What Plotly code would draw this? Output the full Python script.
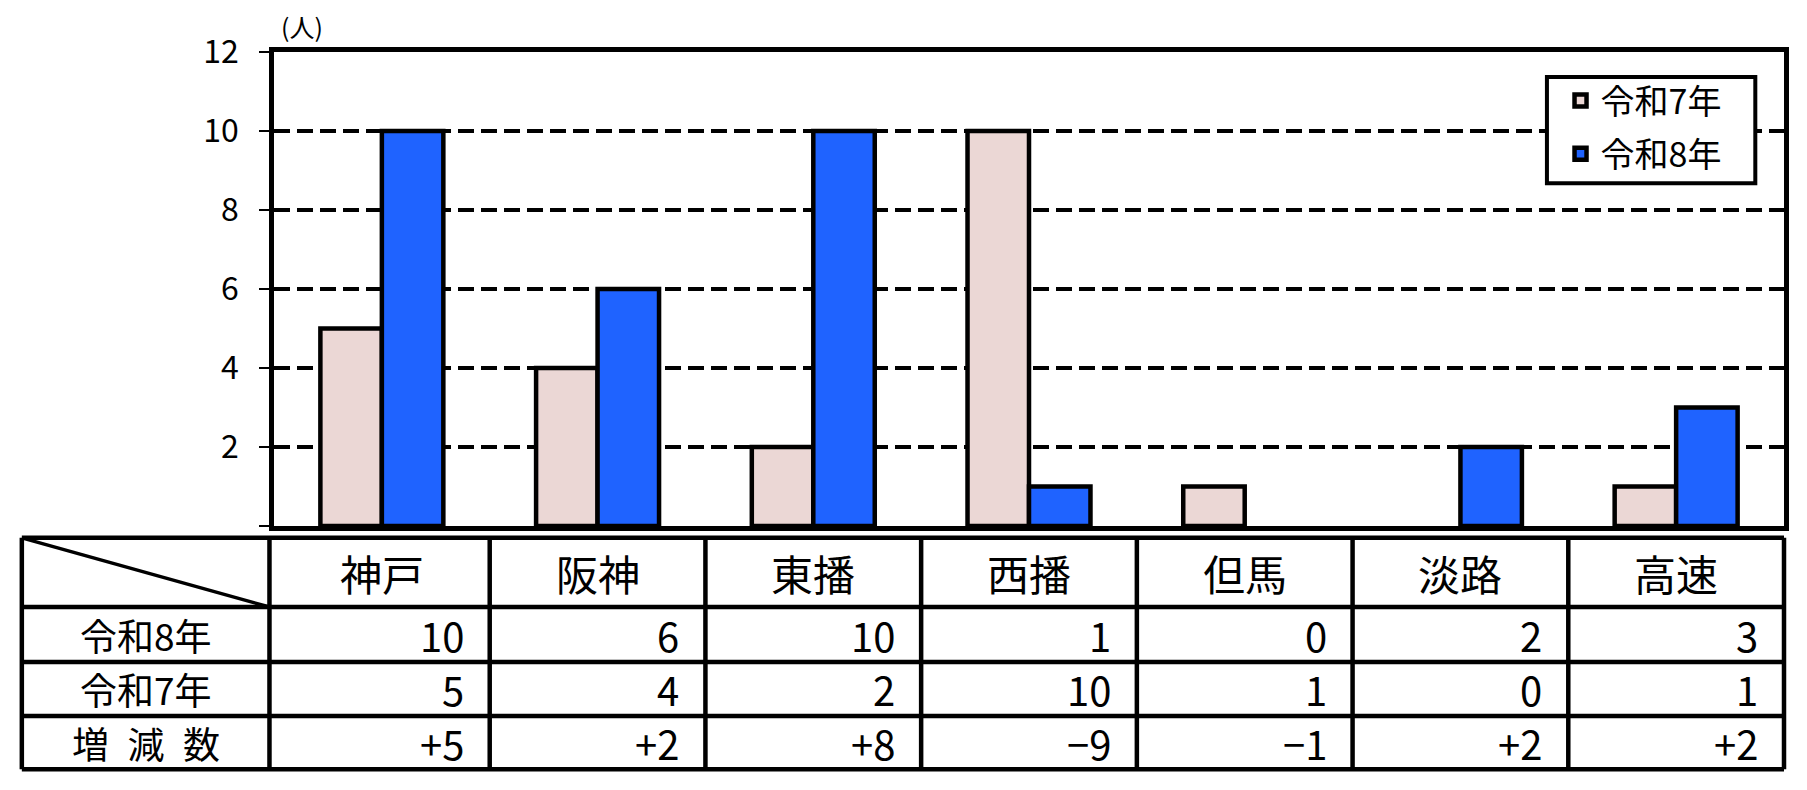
import plotly.graph_objects as go

# データ
areas = ["神戸", "阪神", "東播", "西播", "但馬", "淡路", "高速"]
r7 = [5, 4, 2, 10, 1, 0, 1]
r8 = [10, 6, 10, 1, 0, 2, 3]
row_labels = ["令和8年", "令和7年", "増\u2002減\u2002数"]
diff = [b - a for a, b in zip(r7, r8)]
diff_txt = [("+%d" % d) if d > 0 else ("−%d" % -d) if d < 0 else "0" for d in diff]
ytick_vals = [0, 2, 4, 6, 8, 10, 12]
ytick_txt = ["", "2", "4", "6", "8", "10", "12"]

pink = "#EBD7D5"
blue = "#1F63FF"
font_jp = "Noto Sans CJK JP"
font_num = "Liberation Sans Narrow, " + font_jp

fig = go.Figure()
# 0 のバーは枠線なし
fig.add_trace(go.Bar(x=areas, y=r7, name="令和7年", legendgroup="r7",
                     marker=dict(color=pink, line=dict(color="black", width=[4.5 if v else 0 for v in r7]))))
fig.add_trace(go.Bar(x=areas, y=r8, name="令和8年", legendgroup="r8",
                     marker=dict(color=blue, line=dict(color="black", width=[4.5 if v else 0 for v in r8]))))

fig.update_layout(
    width=1807, height=790,
    margin=dict(l=266, r=31, t=44, b=272),
    plot_bgcolor="white", paper_bgcolor="white",
    font=dict(family=font_jp, color="black"),
    barmode="group", bargap=0.43, bargroupgap=0,
    showlegend=True,
    legend=dict(x=0.852, y=0.958, xanchor="left", yanchor="top",
                borderwidth=0, bgcolor="rgba(0,0,0,0)",
                font=dict(size=34, family=font_jp), itemwidth=30,
                tracegroupgap=6),
)
fig.update_xaxes(range=[-0.5, 6.5], showticklabels=False, ticks="",
                 showline=True, linecolor="black", linewidth=4.5, mirror=True,
                 showgrid=False)
fig.update_yaxes(range=[0, 12], tickvals=ytick_vals, ticktext=ytick_txt,
                 ticks="outside", ticklen=10, tickwidth=1.5, tickcolor="black",
                 tickfont=dict(size=32, family=font_num),
                 ticklabelstandoff=14,
                 showline=True, linecolor="black", linewidth=4.5, mirror=True,
                 showgrid=True, gridcolor="black", gridwidth=3.5, griddash="16px,7px",
                 zeroline=False)

# 凡例の枠
fig.add_shape(type="rect", xref="paper", yref="paper", x0=0.843, x1=0.981, y0=0.723, y1=0.947,
              line=dict(color="black", width=4), fillcolor="white", layer="above")

fig.add_annotation(text="(人)", xref="paper", yref="paper", x=0.003, y=1.0, yshift=6,
                   xanchor="left", yanchor="bottom", showarrow=False,
                   font=dict(size=25, family=font_jp))

# 表（グラフ下）
n = len(areas)
x_left = -0.167
x_first = -0.003
row_y = [-0.025, -0.171, -0.287, -0.401, -0.513]
tbl = dict(color="black", width=4.5)
# 横線
for y in row_y:
    fig.add_shape(type="line", xref="paper", yref="paper", x0=x_left, x1=1.0, y0=y, y1=y, line=tbl)
# 縦線
col_x = [x_left, x_first] + [(i + 1) / n for i in range(n)]
for x in col_x:
    fig.add_shape(type="line", xref="paper", yref="paper", x0=x, x1=x, y0=row_y[0], y1=row_y[-1], line=tbl)
# 斜線
fig.add_shape(type="line", xref="paper", yref="paper", x0=x_left, x1=x_first,
              y0=row_y[0], y1=row_y[1], line=dict(color="black", width=3.5))

tfont = dict(size=42, family=font_jp, color="black")
lfont = dict(size=37, family=font_jp, color="black")
for i, a in enumerate(areas):
    fig.add_annotation(text=a, xref="paper", yref="paper", x=(i + 0.5) / n,
                       y=(row_y[0] + row_y[1]) / 2, showarrow=False, font=tfont,
                       xanchor="center", yanchor="middle")
rows = [[str(v) for v in r8], [str(v) for v in r7], diff_txt]
nfont = dict(size=40, family=font_num, color="black")
for k, (lab, vals) in enumerate(zip(row_labels, rows)):
    yc = (row_y[k + 1] + row_y[k + 2]) / 2
    fig.add_annotation(text=lab, xref="paper", yref="paper", x=(x_left + x_first) / 2,
                       y=yc, showarrow=False, font=lfont, xanchor="center", yanchor="middle")
    for i, v in enumerate(vals):
        fig.add_annotation(text=v, xref="paper", yref="paper", x=(i + 1) / n,
                           y=yc, xshift=-24, showarrow=False, font=nfont,
                           xanchor="right", yanchor="middle")

fig.write_html("out.html")
